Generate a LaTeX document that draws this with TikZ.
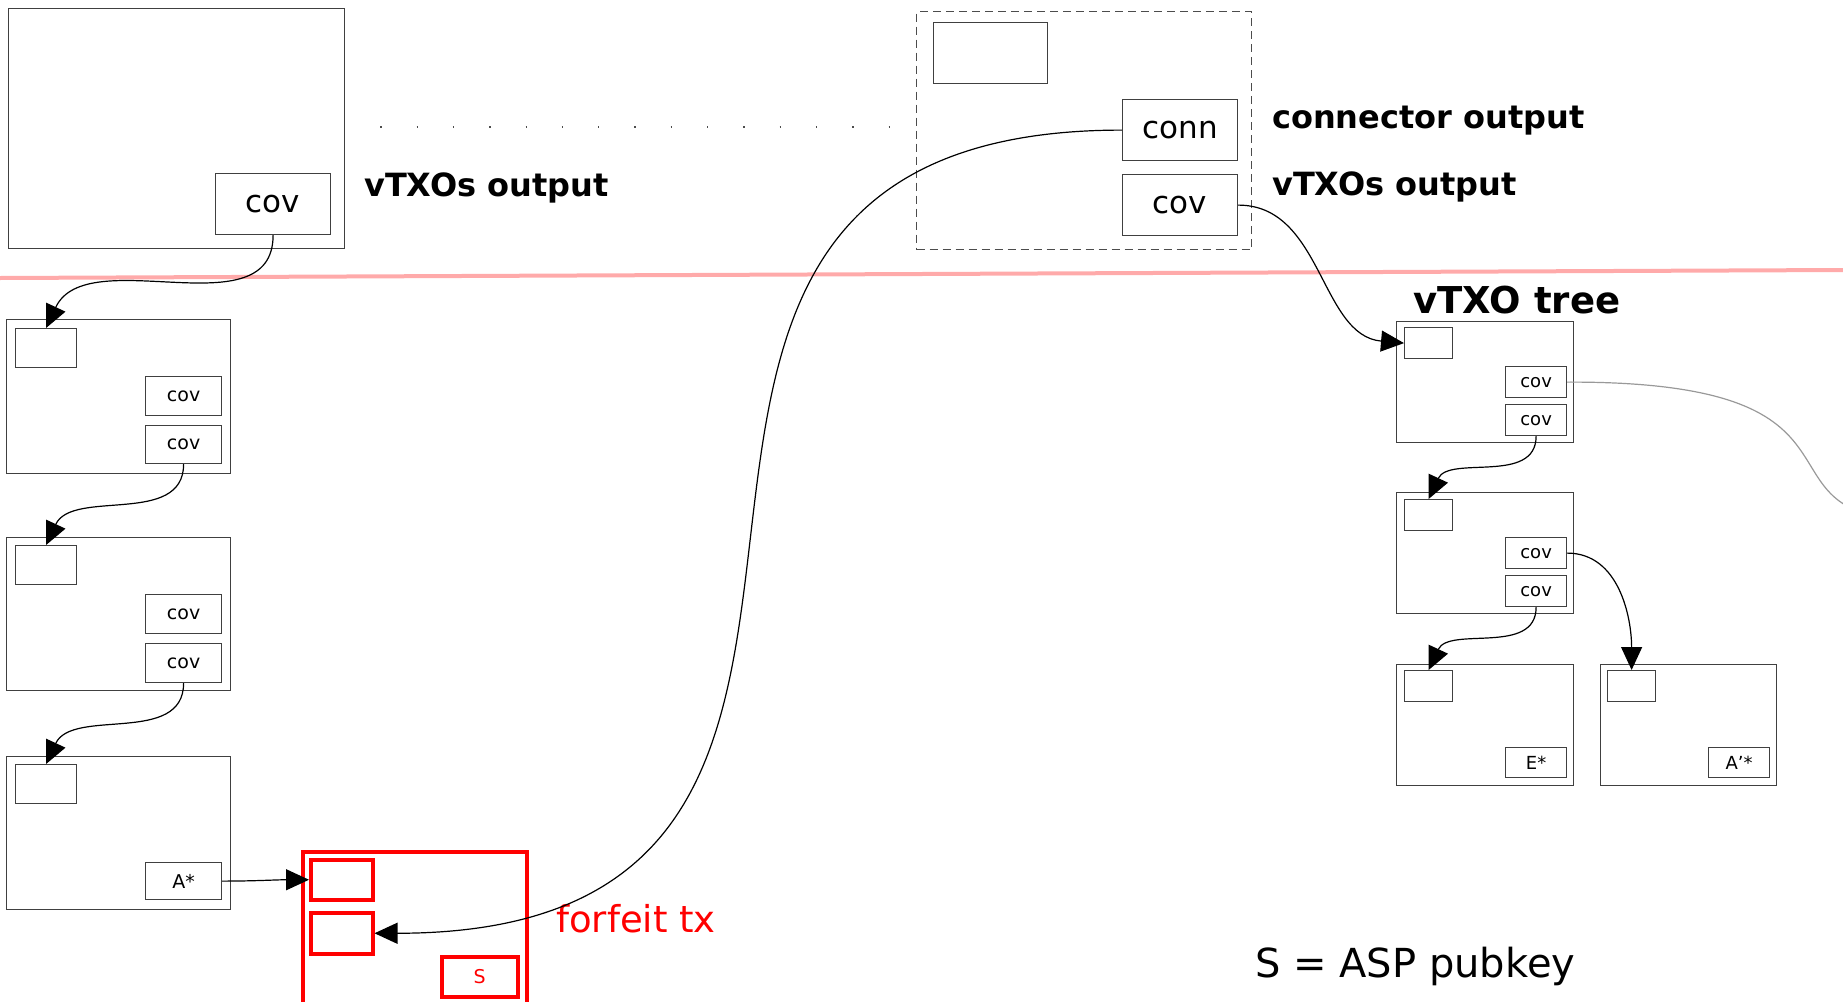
\documentclass[tikz,border=0pt]{standalone}
\usepackage{fontspec}
\setmainfont{DejaVu Sans}
\usetikzlibrary{arrows.meta}
\definecolor{pinkline}{RGB}{255,170,170}
\begin{document}
\begin{tikzpicture}[x=1pt,y=1pt,
  bx/.style 2 args={draw=black!75, line width=1.2pt, inner sep=0pt, anchor=north west, minimum width=#1, minimum height=#2},
  rbx/.style 2 args={bx={#1}{#2}, draw=red, line width=3.5pt, text=red},
  bigt/.style={font=\fontsize{31pt}{36pt}\selectfont},
  smlt/.style={font=\fontsize{19pt}{22pt}\selectfont},
  tint/.style={font=\fontsize{18pt}{21pt}\selectfont},
  lbl/.style={anchor=base west, inner sep=0pt, font=\bfseries\fontsize{32pt}{38pt}\selectfont},
  link/.style={draw=black, line width=1.2pt, -{Triangle[length=23pt,width=21pt]}},
  graylink/.style={draw=black!40, line width=1.2pt},
]
\useasboundingbox (0,0) rectangle (1843,-1001);
\clip (0,0) rectangle (1843,-1001);

% separator and dotted line
\coordinate (pl1) at (0,-278);
\coordinate (pl2) at (1843,-270);
\draw[pinkline, line width=4pt] (pl1) -- (pl2);
\coordinate (dl1) at (344,-127);
\coordinate (dl2) at (914,-127);
\draw[black!70, line width=1.3pt, dash pattern=on 1.3pt off 35pt] (dl1) -- (dl2);

% top-left transaction
\node[bx={336pt}{240pt}] (B0) at (8,-8) {};
\node[bx={115pt}{61pt}, bigt] (cov0) at (215,-173) {cov};
\node[lbl] (lab1) at (364,-196) {vTXOs output};

% dashed transaction
\node[bx={335pt}{238pt}, draw=black!70, dash pattern=on 8pt off 5pt] (D) at (916,-11) {};
\node[bx={114pt}{61pt}] (D1) at (933,-22) {};
\node[bx={115pt}{61pt}, bigt] (connD) at (1122,-99) {conn};
\node[bx={115pt}{61pt}, bigt] (covD) at (1122,-174) {cov};
\node[lbl] (lab2) at (1272,-128) {connector output};
\node[lbl] (lab3) at (1272,-195) {vTXOs output};

% left column
\node[bx={224pt}{154pt}] (L1) at (6,-319) {};
\node[bx={61pt}{39pt}] (L1s) at (15,-328) {};
\node[bx={76pt}{39pt}, smlt] (L1a) at (145,-376) {cov};
\node[bx={76pt}{38pt}, smlt] (L1b) at (145,-425) {cov};

\node[bx={224pt}{153pt}] (L2) at (6,-537) {};
\node[bx={61pt}{39pt}] (L2s) at (15,-545) {};
\node[bx={76pt}{39pt}, smlt] (L2a) at (145,-594) {cov};
\node[bx={76pt}{39pt}, smlt] (L2b) at (145,-643) {cov};

\node[bx={224pt}{153pt}] (L3) at (6,-756) {};
\node[bx={61pt}{39pt}] (L3s) at (15,-764) {};
\node[bx={76pt}{37pt}, smlt] (L3a) at (145,-862) {A*};

% forfeit tx
\node[rbx={224pt}{170pt}] (F) at (301,-850) {};
\node[rbx={62pt}{40pt}] (F1) at (309,-858) {};
\node[rbx={62pt}{41pt}] (F2) at (309,-911) {};
\node[rbx={76pt}{40pt}, smlt] (F3) at (440,-955) {S};
\node[anchor=base west, inner sep=0pt, text=red, font=\fontsize{37pt}{44pt}\selectfont] (lab4) at (556,-932) {forfeit tx};

% vTXO tree
\node[anchor=base west, inner sep=0pt, font=\bfseries\fontsize{37pt}{44pt}\selectfont] (lab5) at (1413,-313) {vTXO tree};
\node[bx={177pt}{121pt}] (T1) at (1396,-321) {};
\node[bx={48pt}{31pt}] (T1s) at (1404,-327) {};
\node[bx={61pt}{31pt}, tint] (T1a) at (1505,-366) {cov};
\node[bx={61pt}{31pt}, tint] (T1b) at (1505,-404) {cov};

\node[bx={177pt}{121pt}] (T2) at (1396,-492) {};
\node[bx={48pt}{31pt}] (T2s) at (1404,-499) {};
\node[bx={61pt}{31pt}, tint] (T2a) at (1505,-537) {cov};
\node[bx={61pt}{31pt}, tint] (T2b) at (1505,-575) {cov};

\node[bx={177pt}{121pt}] (T3) at (1396,-664) {};
\node[bx={48pt}{31pt}] (T3s) at (1404,-670) {};
\node[bx={61pt}{30pt}, tint] (T3a) at (1505,-747) {E*};

\node[bx={176pt}{121pt}] (T4) at (1600,-664) {};
\node[bx={48pt}{31pt}] (T4s) at (1607,-670) {};
\node[bx={61pt}{30pt}, tint] (T4a) at (1708,-747) {A’*};

\node[anchor=base west, inner sep=0pt, font=\fontsize{40pt}{48pt}\selectfont] (lab6) at (1255,-977) {S = ASP pubkey};

% connectors
\draw[link] (cov0.south) to[out=-90,in=65] (L1s.north);
\draw[link] (L1b.south) to[out=-90,in=65] (L2s.north);
\draw[link] (L2b.south) to[out=-90,in=65] (L3s.north);
\draw[link] (L3a.east) to[out=0,in=180] (F1.west);
\draw[link] (connD.west) to[out=180,in=0,looseness=1.5] (F2.east);
\draw[link] (covD.east) to[out=0,in=175] (T1s.west);
\draw[link] (T1b.south) to[out=-90,in=65] (T2s.north);
\draw[link] (T2b.south) to[out=-90,in=65] (T3s.north);
\draw[link] (T2a.east) to[out=0,in=90] (T4s.north);
\coordinate (offr) at (1920,-520);
\draw[graylink] (T1a.east) .. controls (1900,-381) and (1740,-520) .. (offr);
\end{tikzpicture}
\end{document}
